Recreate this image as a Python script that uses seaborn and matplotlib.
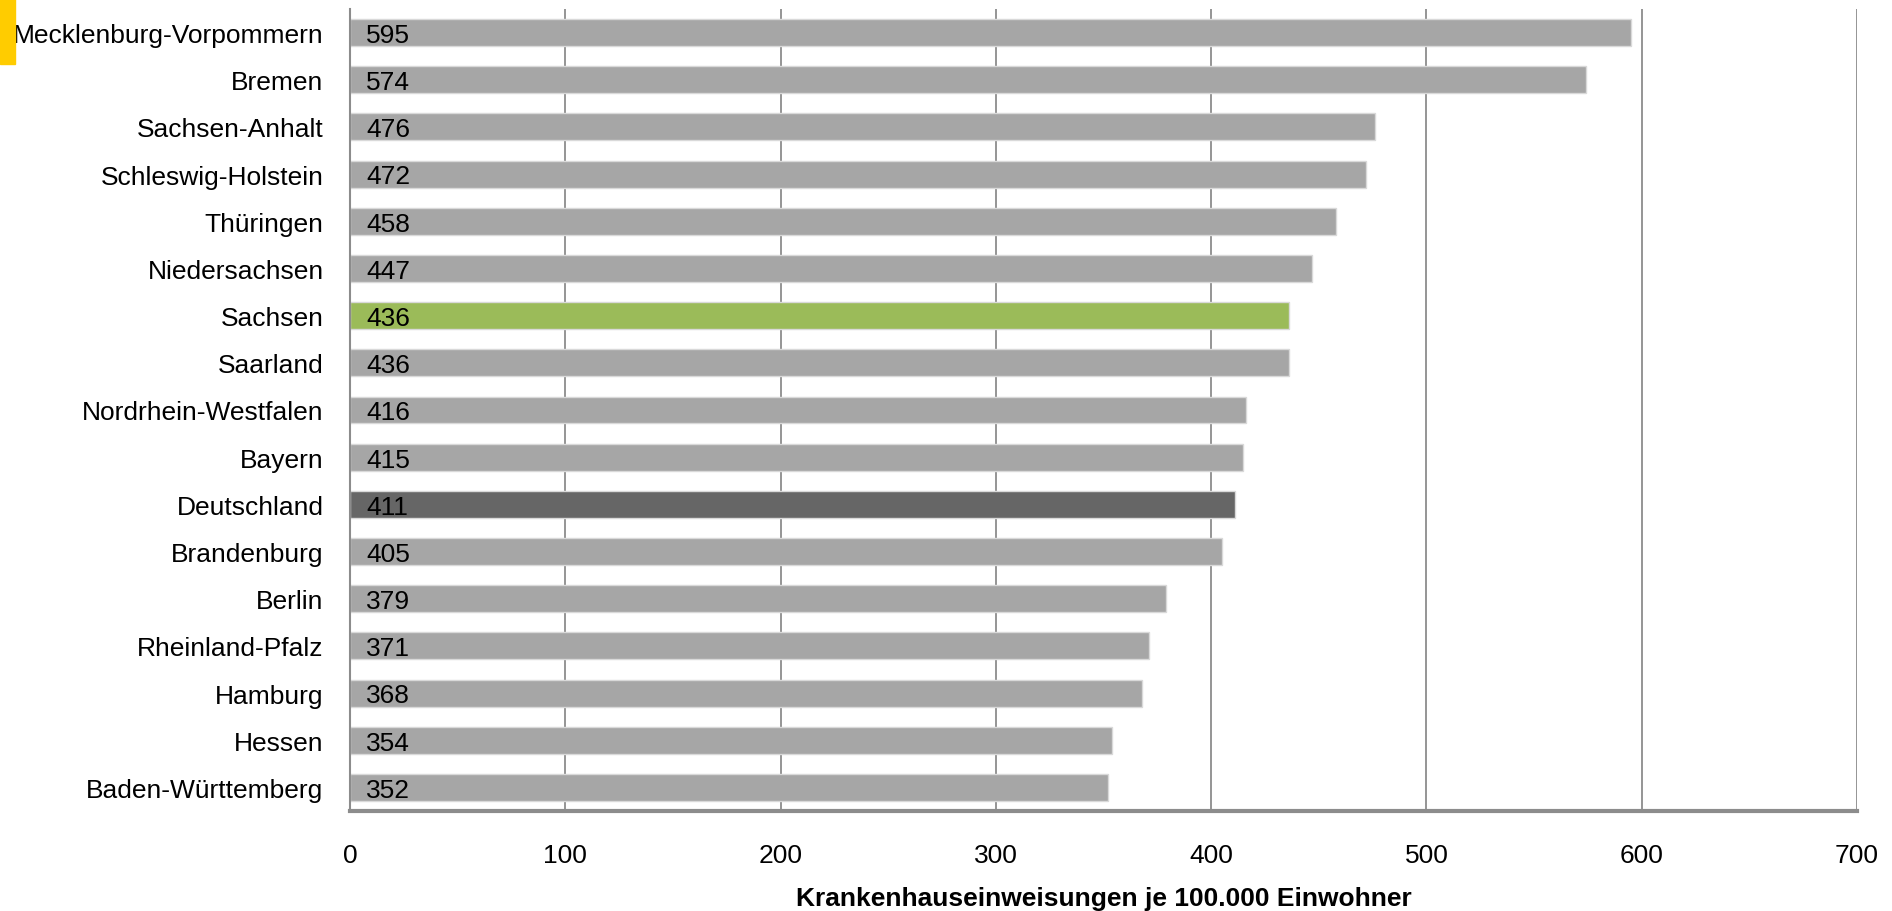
import matplotlib
matplotlib.use("Agg")
import matplotlib.pyplot as plt
import matplotlib.patches as mpatches
import seaborn as sns
import pandas as pd

states = ["Mecklenburg-Vorpommern", "Bremen", "Sachsen-Anhalt", "Schleswig-Holstein",
          "Thüringen", "Niedersachsen", "Sachsen", "Saarland", "Nordrhein-Westfalen",
          "Bayern", "Deutschland", "Brandenburg", "Berlin", "Rheinland-Pfalz",
          "Hamburg", "Hessen", "Baden-Württemberg"]
values = [595, 574, 476, 472, 458, 447, 436, 436, 416, 415, 411, 405, 379, 371, 368, 354, 352]
x_ticks = [0, 100, 200, 300, 400, 500, 600, 700]
x_label = "Krankenhauseinweisungen je 100.000 Einwohner"

GRAY = "#A6A6A6"
GREEN = "#9BBB59"
DARK = "#666666"
palette = {s: GRAY for s in states}
palette["Sachsen"] = GREEN
palette["Deutschland"] = DARK

sns.set_theme(style="white")
plt.rcParams["font.family"] = ["Liberation Sans", "DejaVu Sans"]

df = pd.DataFrame({"state": states, "value": values})

fig = plt.figure(figsize=(18.92, 9.12), dpi=100)
ax = fig.add_axes([350 / 1892, 1 - 812 / 912, (1857 - 350) / 1892, (812 - 10) / 912])

sns.barplot(data=df, x="value", y="state", hue="state", palette=palette, order=states,
            hue_order=states, orient="h", width=0.57, legend=False, ax=ax,
            edgecolor="#D9D9D9", linewidth=1.0, saturation=1, dodge=False)

FS = 19
ax.set_xlim(0, 700)
ax.set_ylim(16.5, -0.5)
ax.set_xticks(x_ticks)
ax.set_xticklabels([str(t) for t in x_ticks], fontsize=FS, color="black")
ax.set_yticks(range(len(states)))
ax.set_yticklabels(states, fontsize=FS, color="black")
ax.set_ylabel("")
ax.set_xlabel(x_label, fontsize=FS, fontweight="bold", labelpad=14, color="black")

ax.grid(axis="x", color="#8C8C8C", linewidth=1.3)
ax.set_axisbelow(True)

for s in ["top", "right"]:
    ax.spines[s].set_visible(False)
ax.spines["left"].set_color("#8C8C8C")
ax.spines["left"].set_linewidth(1.5)
ax.spines["bottom"].set_color("#8C8C8C")
ax.spines["bottom"].set_linewidth(3)

ax.tick_params(axis="y", which="major", length=0, pad=19)
ax.set_yticks([i - 0.5 for i in range(len(states) + 1)], minor=True)
ax.tick_params(axis="y", which="minor", length=6, width=1.5, color="#8C8C8C", direction="out")
ax.tick_params(axis="x", which="major", length=6, width=1.3, color="#8C8C8C", direction="out", pad=17)

for i, v in enumerate(values):
    ax.text(7.5, i + 0.05, str(v), va="center", ha="left", fontsize=FS, color="black")

fig.patches.append(mpatches.Rectangle((0, 1 - 65 / 912), 15 / 1892, 65 / 912,
                                      transform=fig.transFigure, color="#FFCC00", zorder=10))

fig.savefig("out.png", dpi=100)
